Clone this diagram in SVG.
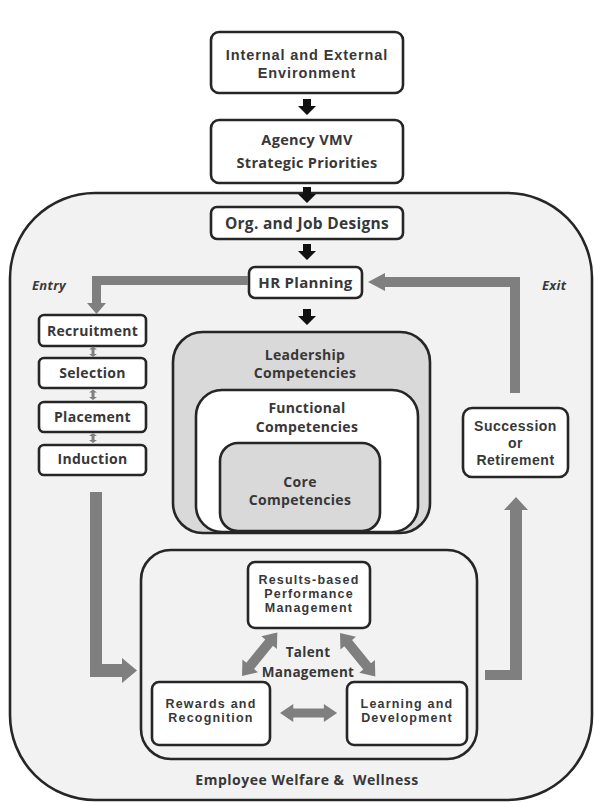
<svg xmlns="http://www.w3.org/2000/svg" width="594" height="803" viewBox="0 0 594 803">
  <style>
    .box { fill: #ffffff; stroke: #262626; stroke-width: 2.6; }
    .t { font-family: "Open Sans", "Liberation Sans", sans-serif; font-weight: 700; fill: #383838; text-anchor: middle; letter-spacing: 0.3px; }
    .big { font-size: 14.5px; }
    .mid { font-size: 14px; }
    .ls { font-family: "Liberation Sans", Arial, sans-serif; font-weight: 700; fill: #383838; text-anchor: middle; }
    .tight { font-family: "Liberation Sans", Arial, sans-serif; font-weight: 700; font-size: 12.5px; fill: #383838; text-anchor: middle; letter-spacing: 1.2px; }
    .lbl { font-family: "Open Sans", "Liberation Sans", sans-serif; font-style: italic; font-weight: 700; font-size: 13px; fill: #3a3a3a; letter-spacing: 0.3px; }
    .gray { fill: #7f7f7f; }
    .blk { fill: #111111; }
  </style>
  <defs>
    <!-- double-headed block arrow along +x, 56 long -->
    <path id="dbl" d="M0,0 L13,-10 L13,-5 L43,-5 L43,-10 L56,0 L43,10 L43,5 L13,5 L13,10 Z"/>
  </defs>

  <rect width="594" height="803" fill="#ffffff"/>

  <!-- outer organisation frame -->
  <g id="frame">
    <rect x="10" y="193" width="582" height="607" rx="85" ry="85" fill="#f2f2f2" stroke="#262626" stroke-width="2.6"/>
    <text class="lbl" x="32" y="290">Entry</text>
    <text class="lbl" x="542" y="290">Exit</text>
    <text class="t" x="307" y="785" font-size="14" style="letter-spacing:0.5px" xml:space="preserve">Employee Welfare &amp;  Wellness</text>
  </g>

  <g id="environment">
    <rect class="box" x="211" y="32" width="192" height="61" rx="8"/>
    <text class="ls" x="307" y="60" font-size="14.5" letter-spacing="0.9">Internal and External</text>
    <text class="ls" x="307" y="77.5" font-size="14.5" letter-spacing="0.9">Environment</text>
  </g>

  <g id="agency-vmv">
    <rect class="box" x="211" y="120" width="192" height="63" rx="8"/>
    <text class="t big" x="307" y="145">Agency VMV</text>
    <text class="t big" x="307" y="168">Strategic Priorities</text>
  </g>

  <g id="org-job-designs">
    <rect class="box" x="211" y="207" width="192" height="32" rx="6"/>
    <text class="t" x="307" y="228.5" font-size="15.5">Org. and Job Designs</text>
  </g>

  <g id="hr-planning">
    <rect class="box" x="249" y="267" width="113" height="31" rx="6"/>
    <text class="t" x="305.5" y="288" font-size="15">HR Planning</text>
  </g>

  <g id="recruitment">
    <rect class="box" x="39" y="315" width="107" height="31" rx="5"/>
    <text class="t mid" x="92.5" y="335.5">Recruitment</text>
  </g>
  <g id="selection">
    <rect class="box" x="39" y="358" width="107" height="30" rx="5"/>
    <text class="t mid" x="92.5" y="378">Selection</text>
  </g>
  <g id="placement">
    <rect class="box" x="39" y="402" width="107" height="30" rx="5"/>
    <text class="t mid" x="92.5" y="421.5">Placement</text>
  </g>
  <g id="induction">
    <rect class="box" x="39" y="445" width="107" height="30" rx="5"/>
    <text class="t mid" x="92.5" y="464">Induction</text>
  </g>

  <g id="succession">
    <rect class="box" x="463" y="408" width="105" height="69" rx="9"/>
    <text class="ls" x="515.5" y="431" font-size="14" letter-spacing="0.5">Succession</text>
    <text class="ls" x="515.5" y="448" font-size="14" letter-spacing="0.5">or</text>
    <text class="ls" x="515.5" y="465" font-size="14" letter-spacing="0.5">Retirement</text>
  </g>

  <!-- nested competency frames -->
  <g id="leadership">
    <rect x="173" y="332" width="257" height="201" rx="30" fill="#d9d9d9" stroke="#262626" stroke-width="2.6"/>
    <text class="t mid" x="305" y="360">Leadership</text>
    <text class="t mid" x="305" y="378">Competencies</text>
  </g>
  <g id="functional">
    <rect x="196" y="390" width="222" height="142" rx="26" fill="#ffffff" stroke="#262626" stroke-width="2.6"/>
    <text class="t mid" x="307" y="413">Functional</text>
    <text class="t mid" x="307" y="432">Competencies</text>
  </g>
  <g id="core">
    <rect x="220" y="443" width="160" height="88" rx="18" fill="#d9d9d9" stroke="#262626" stroke-width="2.6"/>
    <text class="t mid" x="300" y="487">Core</text>
    <text class="t mid" x="300" y="505">Competencies</text>
  </g>

  <!-- talent management cluster -->
  <g id="talent-management">
    <rect x="141" y="550" width="336" height="209" rx="30" fill="#f2f2f2" stroke="#262626" stroke-width="2.6"/>
    <text class="t" x="308" y="657" font-size="13.5">Talent</text>
    <text class="t" x="308" y="677" font-size="13.5">Management</text>
  </g>
  <g id="performance">
    <rect class="box" x="248" y="562" width="122" height="66" rx="7"/>
    <text class="tight" x="309" y="584">Results-based</text>
    <text class="tight" x="309" y="598">Performance</text>
    <text class="tight" x="309" y="612">Management</text>
  </g>
  <g id="rewards">
    <rect class="box" x="152" y="682" width="118" height="63" rx="7"/>
    <text class="tight" x="211" y="708">Rewards and</text>
    <text class="tight" x="211" y="722">Recognition</text>
  </g>
  <g id="learning">
    <rect class="box" x="347" y="682" width="120" height="63" rx="7"/>
    <text class="tight" x="407" y="708">Learning and</text>
    <text class="tight" x="407" y="722">Development</text>
  </g>

  <g id="connectors">
    <!-- black flow arrows down the spine -->
    <path class="blk" d="M303,99 h8 v7 h5 l-9,9 l-9,-9 h5 z"/>
    <path class="blk" d="M303,187 h8 v7 h5 l-9,9 l-9,-9 h5 z"/>
    <path class="blk" d="M303,244 h8 v7 h5 l-9,9 l-9,-9 h5 z"/>
    <path class="blk" d="M303,309 h8 v7 h5 l-9,9 l-9,-9 h5 z"/>

    <!-- HR planning to recruitment (entry) -->
    <polygon class="gray" points="248,276 92,276 92,303 87,303 96.5,314 106,303 101,303 101,285 248,285"/>
    <!-- succession back to HR planning (exit) -->
    <polygon class="gray" points="510,393 520,393 520,277 385,277 385,273 368,282 385,291 385,287 510,287"/>
    <!-- induction into talent management -->
    <polygon class="gray" points="90,492 102,492 102,664 122,664 122,658 137,670.5 122,683 122,677 90,677"/>
    <!-- talent management up to succession -->
    <polygon class="gray" points="485,670 510,670 510,510 504,510 516,497 528,510 522,510 522,680 485,680"/>

    <!-- small links between entry steps -->
    <path class="gray" d="M93,346.5 l-4,3 h2.5 v4.5 h-2.5 l4,3 l4,-3 h-2.5 v-4.5 h2.5 z"/>
    <path class="gray" d="M93,389.5 l-4,3 h2.5 v4.5 h-2.5 l4,3 l4,-3 h-2.5 v-4.5 h2.5 z"/>
    <path class="gray" d="M93,433 l-4,3 h2.5 v4 h-2.5 l4,3 l4,-3 h-2.5 v-4 h2.5 z"/>

    <!-- talent management cycle -->
    <use href="#dbl" class="gray" transform="translate(242,676) rotate(-50.9)"/>
    <use href="#dbl" class="gray" transform="translate(340,633) rotate(50.9)"/>
    <use href="#dbl" class="gray" transform="translate(280,713) scale(1.02,0.9)"/>
  </g>
</svg>
